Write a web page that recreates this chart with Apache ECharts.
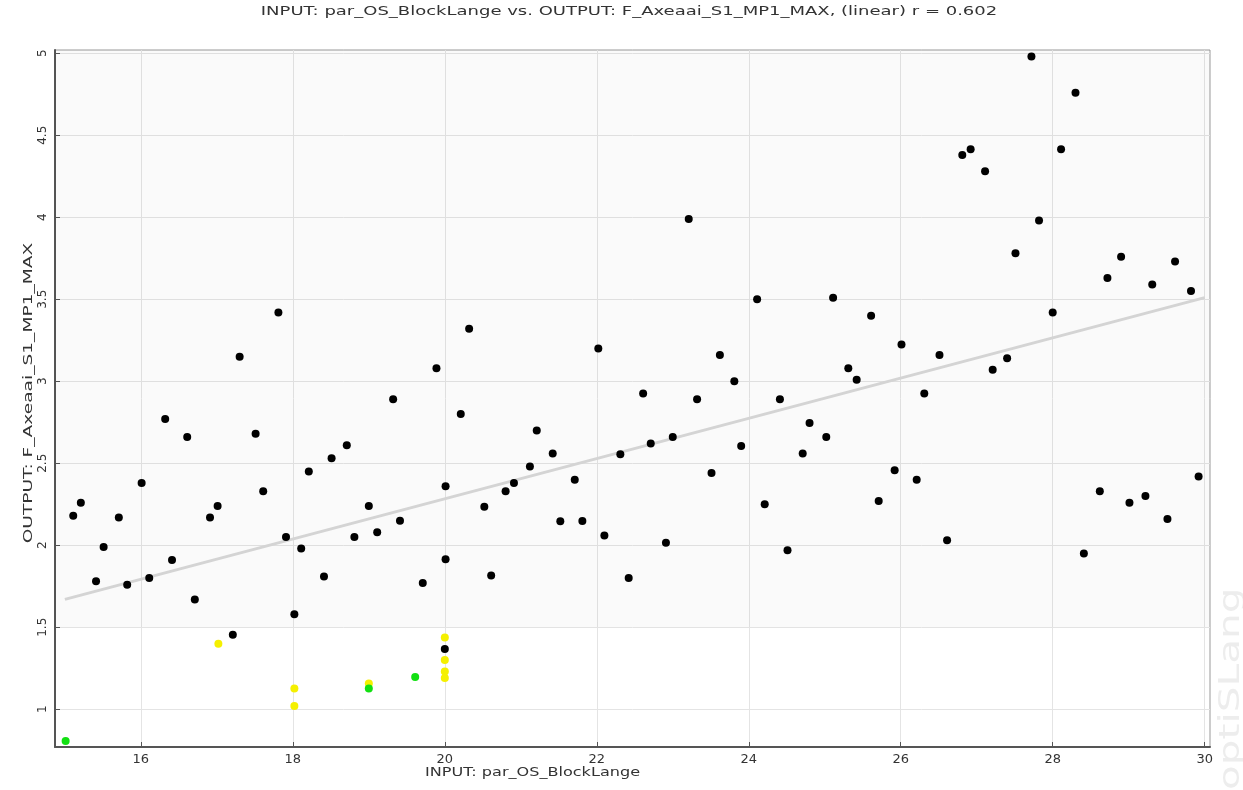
<!DOCTYPE html>
<html>
<head>
<meta charset="utf-8">
<script src="https://cdn.jsdelivr.net/npm/echarts@6/dist/echarts.min.js"></script>
<style>
  html, body { margin: 0; padding: 0; background: #fff; }
  #chart { width: 1243px; height: 790px; }
</style>
</head>
<body>
<div id="chart"></div>
<script>
// Sample designs: input block length vs. output max force
const titleText = 'INPUT: par_OS_BlockLange vs. OUTPUT: F_Axeaai_S1_MP1_MAX, (linear) r = 0.602';
const xName = 'INPUT: par_OS_BlockLange';
const yName = 'OUTPUT: F_Axeaai_S1_MP1_MAX';

const xTicks = [16, 18, 20, 22, 24, 26, 28, 30];
const yTicks = [1, 1.5, 2, 2.5, 3, 3.5, 4, 4.5, 5];

// feasible designs
const blackX = [17.81, 17.30, 19.89, 16.32, 19.32, 16.61, 17.51, 18.71, 18.51, 18.21,
  16.01, 15.21, 15.11, 17.61, 17.01, 16.91, 15.71, 19.00, 19.41, 15.51,
  17.91, 18.11, 18.81, 19.11, 16.41, 15.41, 15.82, 16.11, 18.41, 19.71,
  16.71, 18.02, 17.21, 20.00,
  20.32, 22.02, 20.21, 22.61, 23.62, 23.81, 23.32, 24.41, 24.80, 21.21,
  22.71, 23.00, 23.90, 24.71, 21.42, 22.31, 21.12, 23.51, 21.71, 20.91,
  20.80, 20.01, 20.52, 24.21, 21.52, 21.81, 22.10, 22.91, 24.51, 20.01,
  20.61, 22.42, 23.21, 24.11,
  27.72, 28.30, 26.92, 26.81, 27.11, 28.11, 27.82, 27.51, 28.90, 28.72,
  29.61, 29.31, 29.82, 25.11, 25.61, 28.00, 26.01, 26.51, 25.31, 25.42,
  27.40, 27.21, 26.31, 25.02, 25.92, 26.21, 25.71, 26.61, 28.62, 29.01,
  29.22, 29.51, 28.41, 29.92];
const blackY = [3.42, 3.15, 3.08, 2.77, 2.89, 2.66, 2.68, 2.61, 2.53, 2.45,
  2.38, 2.26, 2.18, 2.33, 2.24, 2.17, 2.17, 2.24, 2.15, 1.99,
  2.05, 1.98, 2.05, 2.08, 1.91, 1.78, 1.76, 1.80, 1.81, 1.77,
  1.67, 1.58, 1.455, 1.368,
  3.32, 3.20, 2.80, 2.925, 3.16, 3.00, 2.89, 2.89, 2.745, 2.70,
  2.62, 2.66, 2.605, 2.56, 2.56, 2.555, 2.48, 2.44, 2.40, 2.38,
  2.33, 2.36, 2.235, 2.25, 2.146, 2.148, 2.06, 2.015, 1.97, 1.915,
  1.815, 1.80, 3.99, 3.50,
  4.98, 4.76, 4.415, 4.38, 4.28, 4.415, 3.98, 3.78, 3.76, 3.63,
  3.73, 3.59, 3.55, 3.51, 3.40, 3.42, 3.225, 3.16, 3.08, 3.01,
  3.14, 3.07, 2.925, 2.66, 2.457, 2.40, 2.27, 2.03, 2.33, 2.26,
  2.30, 2.16, 1.95, 2.42];

// designs flagged yellow
const yellowX = [17.02, 18.02, 18.02, 19.00, 20.00, 20.00, 20.00, 20.00];
const yellowY = [1.40, 1.126, 1.02, 1.157, 1.437, 1.30, 1.23, 1.19];

// designs flagged green
const greenX = [19.00, 19.61, 15.01];
const greenY = [1.126, 1.197, 0.807];

// linear fit
const fitX = [15, 30];
const fitY = [1.67, 3.51];

const zip = (xs, ys) => xs.map((x, i) => [x, ys[i]]);

const chart = echarts.init(document.getElementById('chart'), null, { renderer: 'canvas' });
const font = 'DejaVu Sans';
const textColor = '#333';

chart.setOption({
  animation: false,
  backgroundColor: '#fff',
  grid: {
    left: 55, right: 33, top: 50, bottom: 43,
    show: true, borderColor: '#999', borderWidth: 1, backgroundColor: 'transparent'
  },
  xAxis: {
    type: 'value',
    min: 14.87, max: 30.07,
    axisLine: { show: true, onZero: false, lineStyle: { color: '#555', width: 2 } },
    axisTick: { show: true, inside: true, length: 5, customValues: xTicks, lineStyle: { color: '#555' } },
    axisLabel: { customValues: xTicks, color: textColor, fontFamily: font, fontSize: 13, margin: 6,
      showMinLabel: true, showMaxLabel: true },
    splitLine: { show: true, lineStyle: { color: '#e4e4e4', width: 1 } }
  },
  yAxis: {
    type: 'value',
    min: 0.77, max: 5.02,
    axisLine: { show: true, onZero: false, lineStyle: { color: '#555', width: 2 } },
    axisTick: { show: true, inside: true, length: 5, customValues: yTicks, lineStyle: { color: '#555' } },
    axisLabel: { customValues: yTicks, rotate: 90, color: textColor, fontFamily: font, fontSize: 12, margin: 6 },
    splitLine: { show: true, lineStyle: { color: '#e4e4e4', width: 1 } }
  },
  graphic: [
    {
      // chart title, set in a wide face
      type: 'text', x: 629, y: 12, scaleX: 1.5,
      style: { text: titleText, fontFamily: font, fontSize: 12, fill: textColor,
        textAlign: 'center', textVerticalAlign: 'middle' }
    },
    {
      type: 'text', x: 425, y: 773, scaleX: 1.34,
      style: { text: xName, fontFamily: font, fontSize: 12, fill: textColor,
        textAlign: 'left', textVerticalAlign: 'middle' }
    },
    {
      type: 'text', x: 29, y: 393, rotation: Math.PI / 2, scaleX: 1.55,
      style: { text: yName, fontFamily: font, fontSize: 12, fill: textColor,
        textAlign: 'center', textVerticalAlign: 'middle' }
    },
    {
      type: 'text', x: 1232, y: 790, rotation: Math.PI / 2, scaleX: 1.45,
      style: { text: 'optiSLang', fontFamily: font, fontSize: 28, fill: '#ededed',
        textAlign: 'left', textVerticalAlign: 'middle' }
    }
  ],
  series: [
    {
      type: 'line', data: zip(fitX, fitY), showSymbol: false, symbol: 'none',
      lineStyle: { color: '#d4d4d4', width: 3 }, z: 1, silent: true,
      markArea: {
        silent: true,
        itemStyle: { color: 'rgba(0,0,0,0.018)' },
        data: [[{ yAxis: 1.5 }, { yAxis: 5.02 }]]
      }
    },
    {
      type: 'scatter', data: zip(blackX, blackY), symbolSize: 8,
      itemStyle: { color: '#000', opacity: 1 }, z: 3
    },
    {
      type: 'scatter', data: zip(yellowX, yellowY), symbolSize: 8,
      itemStyle: { color: '#f5f000', opacity: 1 }, z: 3
    },
    {
      type: 'scatter', data: zip(greenX, greenY), symbolSize: 8,
      itemStyle: { color: '#12e012', opacity: 1 }, z: 4
    }
  ]
});
</script>
</body>
</html>
